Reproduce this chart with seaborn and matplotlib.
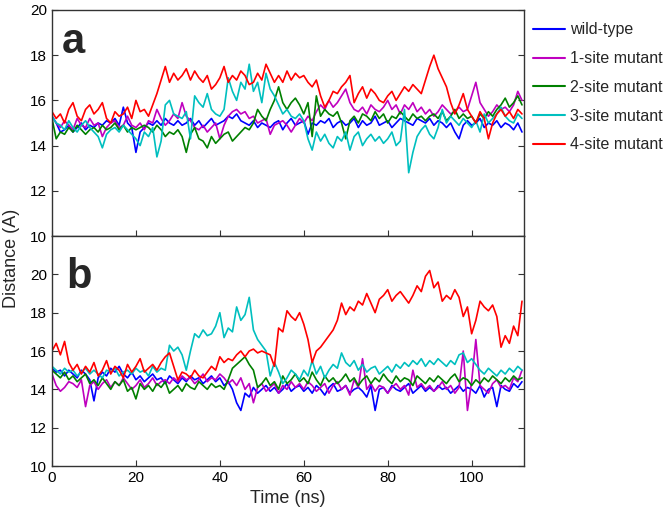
import numpy as np
import pandas as pd
import matplotlib
matplotlib.use("Agg")
import matplotlib.pyplot as plt
import seaborn as sns

# ---------------- DATA ----------------
# time axis (ns), one value per ns
time_ns = list(range(0, 113))

series_names = ["wild-type", "1-site mutant", "2-site mutant", "3-site mutant", "4-site mutant"]
series_colors = ["#0000ff", "#bf00bf", "#008000", "#00bfbf", "#ff0000"]

# panel a
wt_a = [15.3, 15.0, 14.6, 14.7, 14.9, 14.6, 14.8, 15.0, 14.7, 14.9,
        14.8, 15.0, 14.9, 15.1, 15.0, 15.2, 14.9, 15.7, 15.0, 14.8,
        13.7, 14.6, 14.8, 15.0, 14.9, 15.1, 14.9, 15.2, 15.0, 14.9,
        15.1, 14.9, 15.0, 15.2, 14.9, 15.1, 14.8, 15.0, 15.2, 14.9,
        15.0, 15.1, 15.3, 15.2, 15.4, 15.1, 15.0, 14.9, 15.1, 14.8,
        15.0, 14.9, 14.8, 15.0, 15.1, 14.7, 15.0, 15.2, 14.9, 15.0,
        15.1, 14.5, 15.0, 14.9, 15.1, 15.0, 15.2, 14.8, 15.0, 15.1,
        14.9, 15.0, 15.2, 14.8, 15.1, 14.9, 15.0, 15.3, 14.9, 15.0,
        15.1, 14.8, 15.0, 15.2, 15.1, 15.0, 14.9, 15.2, 15.1, 15.0,
        15.2, 14.9, 15.1, 15.0, 14.8, 15.0, 14.6, 14.3, 14.9, 15.1,
        14.9, 15.0, 15.2, 14.8, 15.0, 14.9, 15.1, 14.8, 15.0, 14.9,
        14.7, 15.0, 14.6]
m1_a = [15.3, 15.0, 14.8, 15.1, 14.9, 14.7, 15.2, 14.9, 14.8, 15.2,
        14.9, 15.0, 14.4, 14.8, 15.0, 15.1, 14.8, 14.9, 15.3, 14.9,
        14.8, 15.0, 14.7, 15.1, 15.0, 15.6, 15.2, 14.9, 15.1, 15.4,
        15.2, 15.9, 15.3, 15.1, 14.8, 14.7, 14.9, 14.6, 14.8, 15.0,
        14.3, 14.9, 15.3, 15.5, 15.6, 15.4, 15.5, 15.2, 15.3, 15.0,
        15.1, 15.2, 14.5, 14.9, 15.0, 15.1, 14.9, 14.6, 14.9, 15.2,
        15.0, 15.3, 15.1, 15.5, 15.8, 15.6, 16.0, 15.7, 15.9, 16.2,
        16.5, 15.9, 15.6, 15.5, 15.7, 15.4, 15.8, 15.6, 15.5, 15.7,
        16.0, 15.6, 15.8, 15.4, 15.8, 15.6, 15.9, 15.5, 15.7, 15.4,
        15.6, 15.3, 15.5, 15.8, 15.6, 15.4, 15.5, 15.7, 15.5, 15.6,
        16.2, 16.8, 15.9, 15.6, 15.3, 15.5, 15.8, 15.6, 15.7, 15.5,
        15.8, 16.4, 16.0]
m2_a = [15.2, 14.3, 14.6, 14.5, 14.8, 14.6, 14.9, 14.7, 14.5, 14.7,
        14.8, 14.6, 14.9, 14.7, 14.8, 15.0, 14.7, 14.9, 14.6, 14.8,
        14.7, 14.8, 14.9, 14.8, 14.6, 14.9, 14.7, 14.4, 14.6, 14.5,
        14.7, 14.4, 13.7, 14.5, 14.8, 14.3, 14.2, 13.9, 14.4, 14.1,
        14.3, 14.5, 14.6, 14.2, 14.4, 14.6, 14.8, 14.7, 15.0, 15.6,
        15.3, 15.1, 15.6, 16.0, 16.6, 15.9, 15.6, 15.9, 16.1, 15.8,
        15.4, 15.9, 14.4, 16.2, 15.3, 15.6, 15.4, 15.3, 15.5, 15.0,
        14.3, 15.1, 15.3, 15.0, 15.4, 15.3, 15.1, 15.5, 15.2, 15.4,
        15.0, 15.3, 15.2, 15.5, 15.3, 15.1, 15.4, 15.2, 15.3, 15.1,
        15.3, 15.4, 15.2, 15.5, 15.1, 15.3, 15.6, 15.2, 15.4, 15.2,
        15.3, 15.0, 15.4, 15.2, 15.5, 15.3, 15.6, 15.8, 16.1, 15.7,
        15.9, 16.2, 15.8]
m3_a = [15.3, 15.0, 14.9, 14.7, 15.1, 14.8, 14.6, 14.9, 15.1, 14.8,
        14.6, 14.4, 13.9, 14.5, 14.7, 14.8, 14.6, 14.9, 14.7, 14.5,
        14.3, 14.0, 14.6, 14.4, 14.8, 13.5, 14.2, 15.8, 16.0, 15.4,
        15.3, 15.2, 15.5, 14.3, 16.2, 15.9, 15.7, 16.3, 15.6, 15.4,
        15.3, 15.6, 17.0, 16.4, 16.0, 16.8, 16.5, 17.6, 16.4, 16.8,
        15.9, 17.2, 16.5, 16.2, 15.8, 15.4, 15.6, 15.3, 15.2, 15.4,
        15.1, 14.3, 13.8, 14.6, 14.2, 14.5, 14.1, 13.9, 14.4, 14.2,
        14.6, 13.8, 14.4, 14.6, 14.0, 14.3, 14.5, 14.2, 14.4, 14.1,
        14.3, 14.6, 14.0, 14.2, 15.6, 12.8, 13.7, 14.4, 14.7, 14.9,
        14.5, 14.3, 14.8, 15.6, 15.0, 15.3, 15.1, 14.9, 15.2, 15.0,
        14.8, 15.1, 14.6, 15.4, 15.0, 15.2, 15.4, 15.7, 15.3, 15.1,
        15.0, 15.4, 15.2]
m4_a = [15.5, 15.2, 15.4, 15.0, 15.6, 15.9, 15.3, 15.1, 15.6, 15.8,
        15.4, 15.6, 15.9, 15.2, 15.0, 15.5, 15.3, 15.4, 15.7, 15.2,
        16.0, 15.5, 15.6, 15.3, 15.8, 16.3, 16.9, 17.5, 16.8, 17.2,
        16.9, 17.1, 17.4, 16.9, 17.3, 17.0, 16.8, 17.1, 16.5, 16.7,
        17.0, 17.5, 16.8, 17.1, 16.9, 17.3, 17.1, 16.7, 16.8, 17.2,
        16.9, 17.6, 17.2, 16.8, 17.1, 16.8, 17.3, 16.9, 17.2, 17.0,
        17.1, 16.8, 16.6, 16.9, 16.2, 15.7, 16.0, 16.4, 16.3, 16.6,
        16.8, 17.1, 15.9, 16.3, 16.6, 16.1, 16.5, 16.3, 16.0, 15.9,
        16.2, 16.4, 16.0, 16.3, 16.6, 16.4, 16.7, 16.5, 16.3, 16.9,
        17.5, 18.0, 17.4, 17.0, 16.6, 15.9, 15.4, 15.8, 16.3, 15.6,
        15.3, 15.0, 15.5, 15.2, 14.3, 15.0, 15.4, 15.6, 15.3, 15.5,
        15.2, 15.6, 15.4]

# panel b
wt_b = [15.1, 14.9, 15.0, 14.7, 15.0, 14.8, 14.6, 15.0, 14.8, 14.5,
        13.4, 14.6, 14.9, 14.7, 15.1, 14.9, 15.2, 14.8, 14.6, 14.9,
        14.5, 14.7, 14.4, 14.6, 14.8, 14.5, 14.6, 14.3, 14.7, 14.5,
        14.3, 14.6, 14.4, 14.7, 14.5, 14.6, 14.3, 14.5, 14.7, 14.4,
        14.6, 14.2, 14.4, 14.0, 13.3, 12.9, 13.8, 13.6, 14.1, 13.8,
        14.0, 14.2, 13.9, 14.1, 13.8, 14.0, 14.3, 13.9, 14.1, 14.2,
        13.9, 14.1, 13.8, 14.2, 14.0, 13.7, 14.1, 14.3, 13.9, 14.0,
        14.2, 13.8, 14.0, 14.1, 13.9, 13.6, 14.2, 12.9, 14.0, 14.1,
        13.8, 14.2, 14.0, 13.9, 14.1, 14.3, 13.8, 14.0, 14.2, 13.9,
        14.1, 13.9, 14.2, 14.0, 14.1, 13.8, 14.0, 14.2, 13.9, 14.1,
        14.0, 13.8, 14.2, 13.6, 14.0, 14.1, 13.1, 14.2, 14.0, 13.9,
        14.3, 14.1, 14.4]
m1_b = [14.8, 14.2, 13.9, 14.1, 14.4, 14.3, 14.1, 14.5, 13.1, 14.2,
        14.4, 14.0, 14.3, 14.5, 14.1, 14.4, 14.2, 14.6, 14.3, 14.0,
        14.2, 14.5, 14.1, 14.3, 14.6, 14.2, 14.4, 14.5, 14.3, 14.6,
        14.4, 14.7, 14.5, 14.6, 14.3, 14.5, 14.8, 14.4, 14.6, 14.5,
        14.8, 14.6, 14.3, 14.5, 14.2, 14.6, 14.0, 14.3, 13.3, 14.1,
        14.3, 13.9, 14.1, 14.3, 13.8, 14.2, 14.0, 14.4, 14.1, 14.3,
        14.0, 14.4, 14.2, 13.9, 14.1, 14.3, 13.8, 14.2, 14.4, 14.0,
        14.2, 13.7, 14.5, 14.1, 15.6, 14.0, 14.3, 13.9, 14.2, 14.1,
        13.8, 14.1, 14.3, 14.0, 14.2, 13.7, 15.0, 14.1, 14.3, 14.0,
        14.2, 13.9, 14.1, 14.4, 14.0, 14.2, 13.8, 14.1, 16.0, 12.9,
        14.4, 16.6, 14.2, 14.0, 13.8, 14.3, 14.5, 14.1, 14.2, 14.0,
        14.6, 14.4, 15.0]
m2_b = [15.0, 14.8, 14.6, 14.9, 14.5, 14.7, 14.4, 14.6, 14.8, 14.3,
        14.5, 14.2, 14.6, 14.3, 14.0, 14.4, 14.2, 14.5, 13.9, 14.1,
        13.5, 14.3, 14.0, 14.2, 13.9, 14.3, 14.1, 14.4, 13.8, 14.0,
        14.2, 13.9, 14.3, 14.1, 14.0, 14.4, 14.2, 14.0, 14.3, 14.1,
        14.2, 14.0, 14.5, 15.1, 15.3, 15.5, 15.7, 15.3, 15.0, 14.1,
        14.3, 14.6, 14.2, 14.4, 14.0, 14.7, 14.3, 14.5, 14.8, 14.4,
        14.6, 14.3, 14.9, 14.5, 14.2, 14.7, 14.4, 14.6, 14.3, 14.5,
        14.8, 14.4, 14.6, 14.2, 14.5, 14.7, 14.3, 14.6, 14.4, 14.8,
        14.5, 14.3, 14.7, 14.4, 14.6, 14.5, 14.2, 14.7, 14.5, 14.3,
        14.6, 14.4, 14.7, 14.5, 14.3, 14.6, 14.8, 14.4, 14.6, 14.5,
        14.2, 14.5, 14.3, 14.6, 14.4, 14.7, 14.5, 14.3, 14.6, 14.4,
        14.7, 14.5, 14.6]
m3_b = [15.2, 15.0, 14.8, 15.1, 14.9, 15.0, 14.7, 14.9, 15.1, 14.8,
        15.0, 14.8, 14.6, 15.0, 14.9, 15.1, 14.7, 14.9, 15.0, 14.8,
        15.1, 14.9, 15.0, 14.7, 15.2, 14.9, 15.1, 15.0, 16.3, 16.0,
        16.2, 15.8, 15.0, 16.0, 16.9, 16.7, 17.1, 16.8, 16.9, 17.3,
        18.0, 16.7, 17.2, 17.0, 18.3, 17.6, 17.9, 18.8, 17.1, 16.6,
        16.3, 16.0, 14.7, 15.4, 14.9, 14.3, 14.6, 15.0, 14.8, 14.5,
        15.0, 14.7, 15.5, 14.8, 15.2, 14.6, 15.0, 15.3, 15.1, 15.9,
        15.4, 15.2, 15.5, 15.0, 15.3, 14.9, 15.1, 15.2, 14.8, 15.0,
        15.2, 14.9, 15.3, 15.1, 15.4, 15.2, 15.5, 15.3, 15.6, 15.2,
        15.5, 15.3, 15.6, 15.4, 15.2, 15.5, 15.3, 15.8, 15.9, 15.4,
        15.6, 15.3, 15.0, 14.8, 15.1, 14.9, 14.7, 15.0, 14.8, 15.1,
        14.9, 15.2, 15.0]
m4_b = [16.0, 16.4, 15.8, 16.5, 15.4, 15.0, 15.3, 14.8, 15.2, 14.9,
        15.4, 14.7, 15.0, 15.5, 14.8, 15.2, 15.0, 14.6, 15.3, 14.9,
        15.2, 15.6, 14.9, 15.1, 15.3, 15.0, 15.4, 15.7, 15.9, 15.2,
        14.5, 14.9, 14.8, 14.6, 15.0, 14.7, 14.6, 14.9, 15.2, 15.0,
        15.7, 15.4, 15.6, 15.5, 15.8, 16.0, 15.7, 16.0, 16.1, 15.9,
        16.0, 15.9, 15.8, 15.2, 17.2, 17.0, 18.1, 17.8, 17.6, 18.0,
        17.4, 16.6, 15.4, 16.0, 16.2, 16.5, 16.8, 17.1, 17.6, 18.5,
        17.9, 18.3, 18.1, 18.6, 18.4, 19.0, 18.5, 18.0, 18.7, 18.9,
        19.2, 18.6, 18.9, 19.1, 18.8, 18.5, 18.9, 19.4, 19.1, 19.9,
        20.2, 19.3, 19.6, 18.6, 18.9, 18.7, 19.2, 18.8, 17.8, 18.3,
        16.9, 17.6, 18.6, 18.3, 18.1, 18.4, 17.8, 16.2, 16.8, 16.4,
        17.3, 16.8, 18.6]

panel_a = [wt_a, m1_a, m2_a, m3_a, m4_a]
panel_b = [wt_b, m1_b, m2_b, m3_b, m4_b]


def to_long(series_list):
    frames = []
    for name, vals in zip(series_names, series_list):
        frames.append(pd.DataFrame({"Time": time_ns, "Distance": vals, "Variant": name}))
    return pd.concat(frames, ignore_index=True)


df_a = to_long(panel_a)
df_b = to_long(panel_b)

# ---------------- PLOT ----------------
sns.set_style("white")
plt.rcParams["font.family"] = ["Liberation Sans", "DejaVu Sans"]

fig = plt.figure(figsize=(6.64, 5.17), dpi=100)
ax_a = fig.add_axes([0.0783, 0.5435, 0.711, 0.4372])
ax_b = fig.add_axes([0.0783, 0.0986, 0.711, 0.4449])

palette = dict(zip(series_names, series_colors))

sns.lineplot(data=df_a, x="Time", y="Distance", hue="Variant", hue_order=series_names,
             palette=palette, estimator=None, linewidth=1.2, ax=ax_a)
sns.lineplot(data=df_b, x="Time", y="Distance", hue="Variant", hue_order=series_names,
             palette=palette, estimator=None, linewidth=1.2, ax=ax_b, legend=False)

for ax in (ax_a, ax_b):
    ax.set_xlim(0, 112.5)
    ax.set_yticks([10, 12, 14, 16, 18, 20])
    ax.set_xticks([0, 20, 40, 60, 80, 100])
    ax.tick_params(direction="in", length=4, width=0.8, colors="#333333",
                   labelsize=11, labelcolor="black", right=True, left=True, bottom=True)
    for sp in ax.spines.values():
        sp.set_color("#333333")
        sp.set_linewidth(1.0)
    ax.set_xlabel("")
    ax.set_ylabel("")

ax_a.set_ylim(10, 20)
ax_b.set_ylim(10, 22)
ax_a.tick_params(labelbottom=False)

ax_a.text(0.021, 0.81, "a", transform=ax_a.transAxes, fontsize=30, fontweight="heavy")
ax_b.text(0.03, 0.775, "b", transform=ax_b.transAxes, fontsize=30, fontweight="heavy")

ax_b.set_xlabel("Time (ns)", fontsize=13)
fig.text(0.018, 0.5, "Distance (A)", rotation=90, fontsize=13, va="center", ha="center")

leg = ax_a.legend(loc="upper left", bbox_to_anchor=(1.005, 0.973), frameon=False,
                  fontsize=11.5, handlelength=2.0, handletextpad=0.3, labelspacing=0.86,
                  borderaxespad=0.0)
for line in leg.get_lines():
    line.set_linewidth(1.5)

plt.savefig("out.png", dpi=100)
